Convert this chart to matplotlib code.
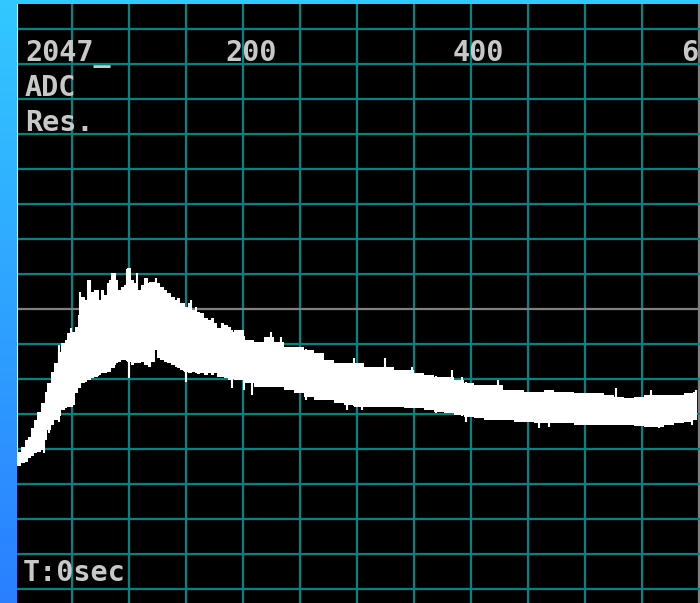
import numpy as np
import matplotlib
matplotlib.use("Agg")
import matplotlib.pyplot as plt
from matplotlib.colors import LinearSegmentedColormap

# ---- data (sample index, ADC counts) ----
samples = [0, 4, 7, 10, 12, 16, 18, 21, 25, 27, 30, 33, 36, 39, 42, 45, 47, 51, 54, 56,
           60, 62, 65, 68, 71, 74, 77, 80, 82, 86, 89, 91, 95, 97, 100, 103, 106, 109, 112, 115,
           118, 121, 124, 126, 129, 132, 135, 139, 141, 144, 146, 150, 153, 156, 159, 161, 164, 168, 170, 173,
           176, 179, 182, 185, 188, 191, 194, 196, 205, 214, 223, 232, 240, 249, 258, 267, 275, 284, 293, 302,
           310, 319, 328, 337, 346, 354, 363, 372, 381, 389, 398, 407, 416, 424, 433, 442, 451, 460, 468, 477,
           486, 495, 503, 512, 521, 530, 539, 547, 556, 565, 574, 582, 591, 598]
upper = [472, 501, 519, 545, 556, 589, 618, 647, 680, 720, 753, 794, 826, 867, 900, 911, 936, 940, 958, 1002,
         1068, 1057, 1130, 1086, 1093, 1057, 1093, 1075, 1119, 1156, 1130, 1093, 1104, 1112, 1174, 1130, 1119, 1093, 1112, 1137,
         1119, 1123, 1130, 1119, 1104, 1093, 1082, 1068, 1057, 1064, 1046, 1031, 1046, 1020, 1031, 1013, 1009, 991, 984, 991,
         973, 954, 973, 965, 958, 940, 947, 947, 911, 903, 922, 903, 885, 885, 874, 863, 837, 826, 826, 826,
         812, 812, 812, 801, 801, 790, 783, 775, 775, 764, 753, 746, 746, 746, 728, 728, 720, 720, 728, 720,
         720, 717, 717, 717, 709, 702, 698, 702, 709, 709, 709, 709, 717, 720]
lower = [435, 450, 461, 464, 479, 486, 497, 501, 508, 545, 581, 600, 618, 633, 655, 662, 666, 673, 717, 735,
         753, 757, 764, 772, 775, 783, 790, 790, 794, 808, 826, 830, 837, 837, 830, 819, 826, 826, 830, 819,
         812, 830, 874, 845, 837, 830, 826, 819, 812, 808, 801, 794, 790, 794, 790, 786, 790, 783, 790, 783,
         790, 775, 775, 772, 764, 768, 764, 764, 753, 739, 739, 739, 728, 717, 702, 691, 691, 680, 673, 666,
         666, 666, 666, 666, 662, 662, 655, 647, 644, 636, 629, 625, 618, 618, 618, 611, 611, 607, 607, 607,
         607, 600, 600, 600, 600, 600, 600, 596, 592, 592, 600, 607, 611, 618]

# noise spikes
spike_up_x = [39, 49, 57, 66, 73, 83, 88, 98, 107, 118, 124, 148, 154, 225, 233, 297, 325, 348, 383, 392, 424, 527, 558, 597]
spike_up_y = [892, 954, 1086, 1130, 1093, 1130, 1156, 1170, 1156, 1123, 1137, 1046, 1057, 940, 922, 845, 845, 812, 801, 775, 764, 735, 728, 728]
spike_dn_x = [25, 30, 39, 50, 100, 150, 190, 201, 208, 255, 291, 304, 369, 396, 460, 468, 565, 594]
spike_dn_y = [497, 570, 611, 666, 772, 757, 735, 728, 709, 691, 655, 655, 644, 611, 589, 592, 589, 600]

x_ticks = [200, 400, 600]
x_grid = list(range(0, 601, 50))
y_grid = list(range(0, 2049, 128))
labels_left = ["2047_", "ADC", "Res."]
label_bottom = "T:0sec"

# ---- figure ----
W, H = 700, 603
fig = plt.figure(figsize=(W / 100, H / 100), dpi=100)

bg = fig.add_axes([0, 0, 1, 1])
cmap = LinearSegmentedColormap.from_list("bg", ["#2a7fff", "#33c8ff"])
grad = np.linspace(0, 1, 256).reshape(-1, 1)
bg.imshow(grad, aspect="auto", cmap=cmap, extent=[0, 1, 0, 1], origin="lower")
bg.set_axis_off()

ax = fig.add_axes([17 / W, 0, 683 / W, 599 / H])
ax.set_facecolor("black")
ax.set_xlim(1.75, 600.9)
ax.set_ylim(-51.2, 2139.4)
for s in ax.spines.values():
    s.set_visible(False)
ax.set_xticks([])
ax.set_yticks([])

teal = "#008484"
for g in x_grid:
    ax.axvline(g, color="#808080" if g == 600 else teal, lw=1.6, zorder=1)
for g in y_grid:
    ax.axhline(g, color="#808080" if g == 1024 else teal, lw=1.6, zorder=1)

# trace band
ax.fill_between(samples, lower, upper, step="mid", color="white", lw=0, zorder=3)
mid_up = np.interp(spike_up_x, samples, lower)
ax.vlines(spike_up_x, mid_up, spike_up_y, color="white", lw=1.5, zorder=3)
mid_dn = np.interp(spike_dn_x, samples, upper)
ax.vlines(spike_dn_x, spike_dn_y, mid_dn, color="white", lw=1.5, zorder=3)
ax.vlines([1.9], [upper[0]], [2139], color="white", lw=1.5, zorder=3)

# text
tc = "#c8c8c8"
fp = dict(family="DejaVu Sans Mono", weight="bold", size=20.5, color=tc)
for lab, yb in zip(labels_left, [61, 96, 131]):
    fig.text(25 / W, 1 - yb / H, lab, va="baseline", ha="left", **fp)
fig.text(23 / W, 1 - 581 / H, label_bottom, va="baseline", ha="left", **fp)
for t in x_ticks:
    ax.annotate(str(t), xy=(t, 1 - 61 / H), xycoords=("data", "figure fraction"),
                xytext=(-13, 0), textcoords="offset points", va="baseline", ha="left",
                annotation_clip=False, zorder=5, **fp)

fig.savefig("out.png", dpi=100, facecolor="black")
